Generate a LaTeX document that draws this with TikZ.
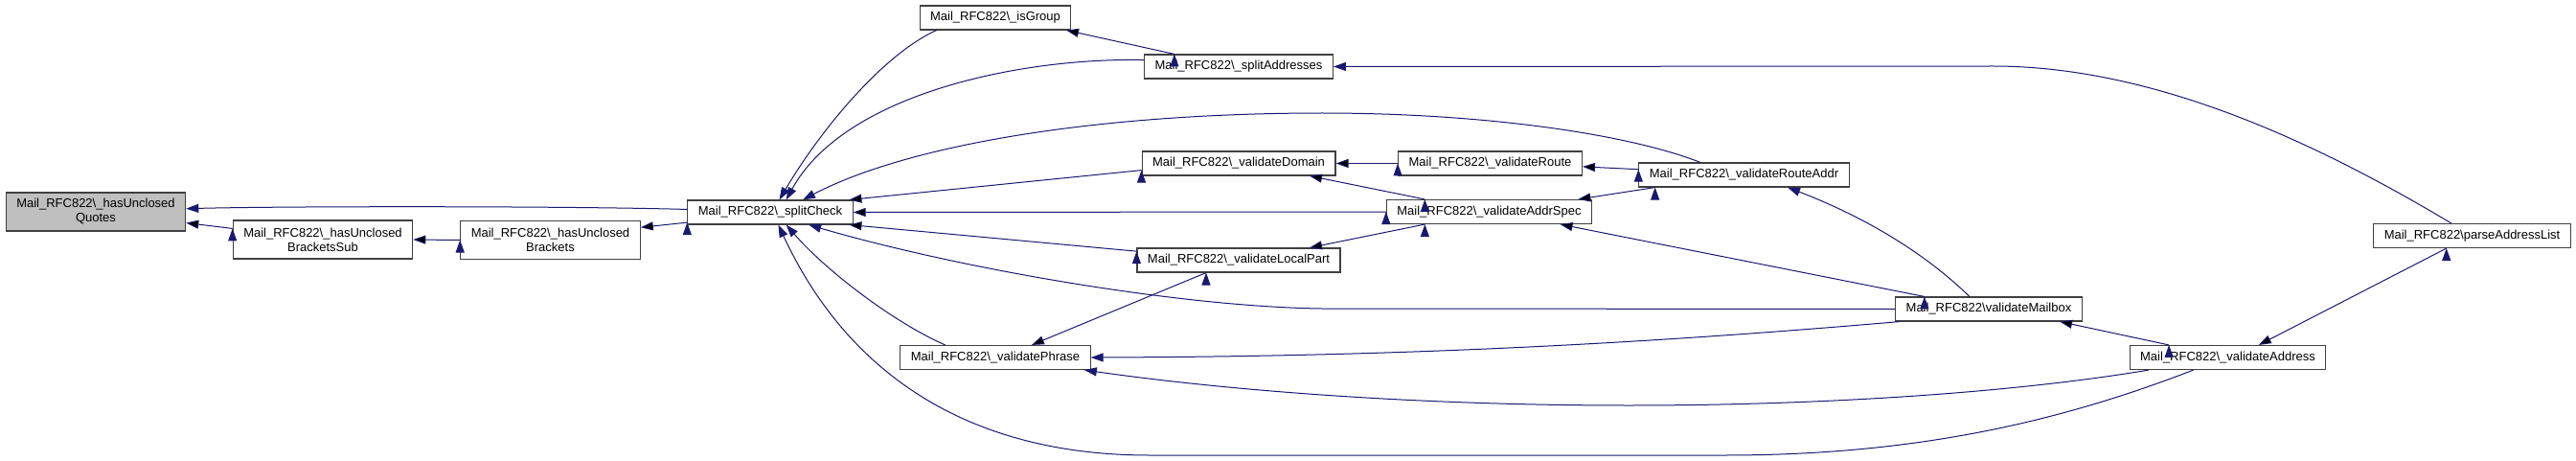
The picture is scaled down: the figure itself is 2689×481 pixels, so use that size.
\documentclass[tikz,border=0pt]{standalone}
\usepackage{fontspec}
\setmainfont{Liberation Sans}
\usetikzlibrary{arrows.meta}

\definecolor{edgeblue}{RGB}{25,25,112}
\definecolor{boxline}{RGB}{64,64,64}
\definecolor{curfill}{RGB}{191,191,191}
\newcommand{\rfc}{Mail\_RFC822\textbackslash}

\begin{document}
\begin{tikzpicture}[x=1pt,y=-1pt,
	fn/.style={shape=rectangle,draw=boxline,fill=white,line width=1.1pt,minimum height=25pt,inner xsep=11pt,inner ysep=2pt,font=\fontsize{13}{15}\selectfont},
	fntwo/.style={fn,align=center,minimum height=40pt},
	call/.style={draw=edgeblue,line width=1pt,-{Triangle[length=13pt,width=9pt]}}]
	\useasboundingbox (0,0) rectangle (2689,481);

	\node[fntwo,fill=curfill] (hasQuotes) at (100,221) {\rfc\_hasUnclosed\\Quotes};
	\node[fntwo] (bracketsSub) at (337,250) {\rfc\_hasUnclosed\\BracketsSub};
	\node[fntwo] (brackets) at (574.5,250.5) {\rfc\_hasUnclosed\\Brackets};
	\node[fn] (splitCheck) at (804,221.5) {\rfc\_splitCheck};

	\node[fn] (isGroup) at (1039,18.5) {\rfc\_isGroup};
	\node[fn] (valPhrase) at (1039,373) {\rfc\_validatePhrase};

	\node[fn] (splitAddr) at (1293,69.5) {\rfc\_splitAddresses};
	\node[fn] (valDomain) at (1293,170.5) {\rfc\_validateDomain};
	\node[fn] (valLocalPart) at (1293,271.5) {\rfc\_validateLocalPart};

	\node[fn] (valRoute) at (1555.5,170.5) {\rfc\_validateRoute};
	\node[fn] (valAddrSpec) at (1554.5,221) {\rfc\_validateAddrSpec};
	\node[fn] (valRouteAddr) at (1820.5,182.5) {\rfc\_validateRouteAddr};

	\node[fn] (valMailbox) at (2076,322.5) {\rfc validateMailbox};
	\node[fn] (valAddress) at (2325.5,373) {\rfc\_validateAddress};
	\node[fn] (parseList) at (2580.5,246) {\rfc parseAddressList};

	% straight calls
	\path[call] (bracketsSub.173) edge (hasQuotes.-7);
	\path[call] (brackets.west) edge (bracketsSub.east);
	\path[call] (splitCheck.-173) edge (brackets.8);
	\path[call] (splitAddr.169) edge (isGroup.-10);
	\path[call] (valDomain.-176) edge (splitCheck.9);
	\path[call] (valAddrSpec.west) edge (splitCheck.east);
	\path[call] (valLocalPart.175.5) edge (splitCheck.-9);
	\path[call] (valRoute.west) edge (valDomain.east);
	\path[call] (valAddrSpec.169) edge (valDomain.-10);
	\path[call] (valRouteAddr.177.6) edge (valRoute.-2.7);
	\path[call] (valRouteAddr.-172) edge (valAddrSpec.8);
	\path[call] (valAddrSpec.-169) edge (valLocalPart.10);
	\path[call] (valMailbox.169) edge (valAddrSpec.-10);
	\path[call] (valLocalPart.-159) edge (valPhrase.19);
	\path[call] (valAddress.168) edge (valMailbox.-10);
	\path[call] (parseList.-154) edge (valAddress.22);

	% curved calls
	\draw[call] (splitCheck.178) .. controls (600,215) and (300,215) .. (hasQuotes.2);
	\draw[call] (isGroup.-168) .. controls (925,55) and (860,130) .. (splitCheck.54);
	\draw[call] (splitAddr.176) .. controls (1060,60) and (880,100) .. (splitCheck.38);
	\draw[call] (valRouteAddr.164) .. controls (1700,140) and (1550,118) .. (1380,118)
		.. controls (1150,118) and (950,150) .. (splitCheck.21);
	\draw[call] (valMailbox.west) -- (1380,322) .. controls (1230,320) and (1000,280) .. (splitCheck.-18);
	\draw[call] (valPhrase.166) .. controls (930,335) and (860,280) .. (splitCheck.-38);
	\draw[call] (valAddress.-160) .. controls (2150,440) and (2000,475) .. (1800,475) -- (1200,475)
		.. controls (1000,475) and (880,380) .. (splitCheck.-57);
	\draw[call] (parseList.149) .. controls (2420,150) and (2250,69) .. (2080,69) -- (splitAddr.east);
	\draw[call] (valMailbox.147) .. controls (2000,255) and (1930,220) .. (valRouteAddr.-16);
	\draw[call] (valMailbox.-172) .. controls (1700,360) and (1450,372) .. (valPhrase.east);
	\draw[call] (valAddress.-171) .. controls (2100,410) and (1900,423) .. (1700,423)
		.. controls (1500,423) and (1300,410) .. (valPhrase.-8.5);
\end{tikzpicture}
\end{document}
